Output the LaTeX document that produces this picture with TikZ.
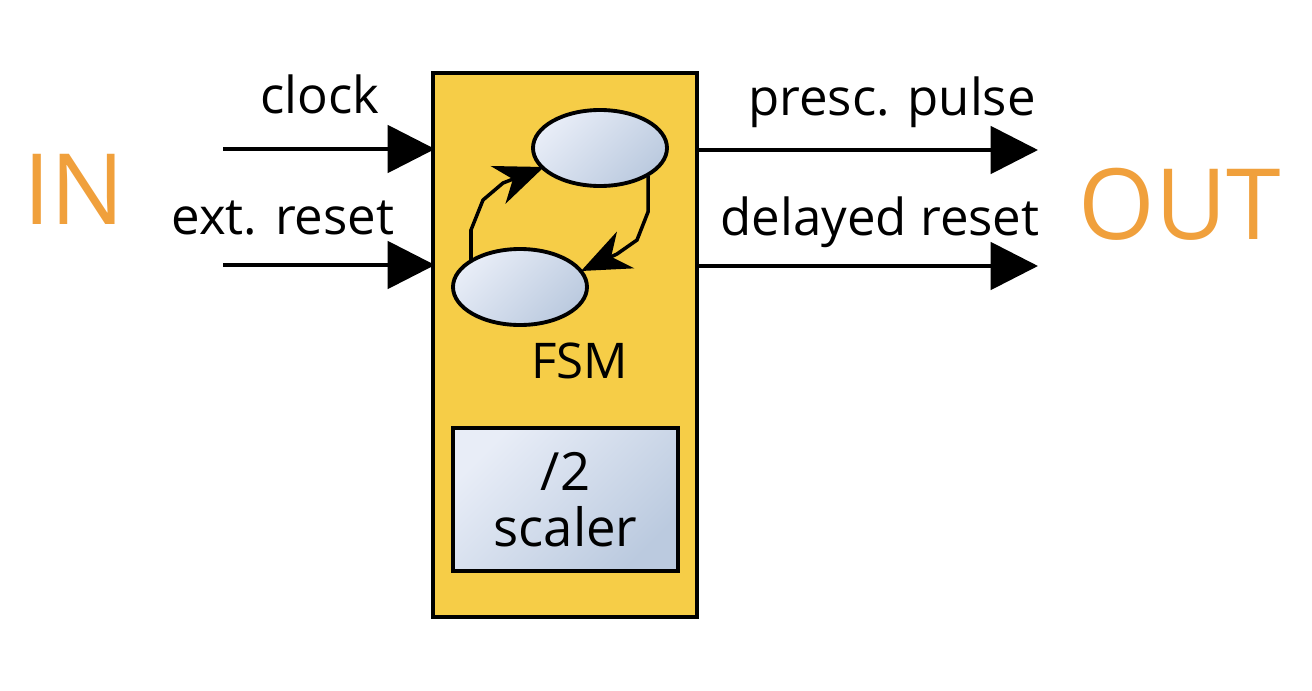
\documentclass[tikz,border=0pt]{standalone}
\usepackage{fontspec}
\setmainfont{Open Sans}
\usetikzlibrary{arrows.meta,shapes.geometric}
\definecolor{boxyellow}{HTML}{F6CD47}
\definecolor{inorange}{HTML}{F0A03C}
\definecolor{shlight}{HTML}{E8EDF7}
\definecolor{shdark}{HTML}{BBCADF}
\tikzset{
  blueshade/.style={draw=black, line width=2.2pt, top color=shlight, bottom color=shdark, shading angle=45},
  sigarrow/.style={line width=2.2pt, -{Triangle[length=27pt,width=27pt]}},
  fsmarrow/.style={line width=2pt, line join=miter, -{Stealth[length=28pt,width=23pt,inset=9pt]}},
  sig/.style={anchor=base, font=\fontsize{29}{33}\selectfont},
  io/.style={anchor=base, text=inorange, font=\fontsize{56}{60}\selectfont},
}
\begin{document}
\begin{tikzpicture}[x=0.02cm, y=-0.02cm]
\useasboundingbox (0,0) rectangle (1312,690);
% main block
\node[draw=black, line width=2.2pt, fill=boxyellow, minimum width=264*0.02cm, minimum height=544*0.02cm, inner sep=0pt] (blk) at (565,345) {};
% states
\node[blueshade, ellipse, minimum width=134*0.02cm, minimum height=76*0.02cm, inner sep=0pt] (s1) at (600,148) {};
\node[blueshade, ellipse, minimum width=134*0.02cm, minimum height=76*0.02cm, inner sep=0pt] (s2) at (520,287) {};
% fsm arrows
\coordinate (a1) at (471,262);
\coordinate (b1) at (648,176);
\draw[fsmarrow] (a1) -- (471,230) -- (483,200) -- (503,183) -- (544,167);
\draw[fsmarrow] (b1) -- (648,212) -- (637,240) -- (617,254) -- (581,271);
\node[anchor=base, font=\fontsize{28}{31}\selectfont] (fsm) at (580,378) {FSM};
% scaler
\node[blueshade, rectangle, minimum width=225*0.02cm, minimum height=143*0.02cm, inner sep=0pt, align=center] (sc) at (565.5,499.5) {};
\node[anchor=base, font=\fontsize{30}{34}\selectfont] (sc1) at (565.5,490) {/2};
\node[anchor=base, font=\fontsize{30}{34}\selectfont] (sc2) at (565.5,546) {scaler};
% inputs
\coordinate (clkin) at (223,149);
\coordinate (rstin) at (223,265);
\coordinate (clkend) at (435,149);
\coordinate (rstend) at (435,265);
\draw[sigarrow] (clkin) -- (clkend);
\draw[sigarrow] (rstin) -- (rstend);
\node[sig] (lclk) at (320,113) {clock};
\node[sig] (lrst) at (283,234) {ext. reset};
% outputs
\coordinate (po0) at (697,150);
\coordinate (do0) at (697,266);
\coordinate (po1) at (1038,150);
\coordinate (do1) at (1038,266);
\draw[sigarrow] (po0) -- (po1);
\draw[sigarrow] (do0) -- (do1);
\node[sig] (lpp) at (892,115) {presc. pulse};
\node[sig] (ldr) at (880,235) {delayed reset};
% IN / OUT
\node[io] (in) at (74,224) {IN};
\node[io] (out) at (1180,239) {OUT};
\end{tikzpicture}
\end{document}
